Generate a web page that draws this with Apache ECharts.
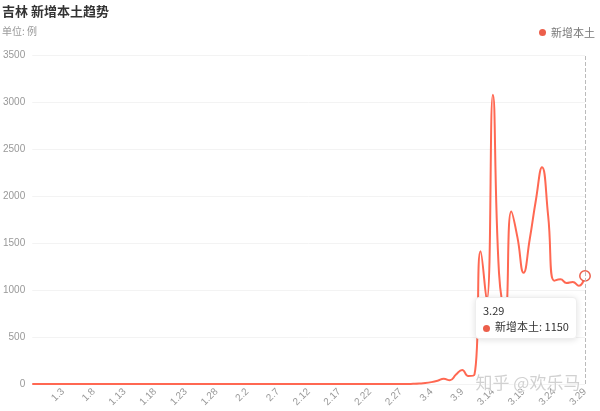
<!DOCTYPE html>
<html>
<head>
<meta charset="utf-8">
<script src="https://cdn.jsdelivr.net/npm/echarts@6/dist/echarts.min.js"></script>
<style>
  html, body { margin: 0; padding: 0; background: #fff; }
  #chart { width: 600px; height: 411px; }
</style>
</head>
<body>
<div id="chart"></div>
<script>
const titleText = '吉林 新增本土趋势';
const unitText = '单位: 例';
const seriesName = '新增本土';

const dates = [
  '12.29','12.30','12.31',
  '1.1','1.2','1.3','1.4','1.5','1.6','1.7','1.8','1.9','1.10',
  '1.11','1.12','1.13','1.14','1.15','1.16','1.17','1.18','1.19','1.20',
  '1.21','1.22','1.23','1.24','1.25','1.26','1.27','1.28','1.29','1.30','1.31',
  '2.1','2.2','2.3','2.4','2.5','2.6','2.7','2.8','2.9','2.10',
  '2.11','2.12','2.13','2.14','2.15','2.16','2.17','2.18','2.19','2.20',
  '2.21','2.22','2.23','2.24','2.25','2.26','2.27','2.28',
  '3.1','3.2','3.3','3.4','3.5','3.6','3.7','3.8','3.9','3.10',
  '3.11','3.12','3.13','3.14','3.15','3.16','3.17','3.18','3.19','3.20',
  '3.21','3.22','3.23','3.24','3.25','3.26','3.27','3.28','3.29'
];

// 12.29 - 12.31
const valuesDec = [0, 0, 0];
// 1.1 - 1.31
const valuesJan = [0,0,0,0,0,0,0,0,0,0, 0,0,0,0,0,0,0,0,0,0, 0,0,0,0,0,0,0,0,0,0, 0];
// 2.1 - 2.28
const valuesFeb = [0,0,0,0,0,0,0,0,0,0, 0,0,0,0,0,0,0,0,0,0, 0,0,0,0,0,0,0,0];
// 3.1 - 3.29
const valuesMar = [2, 5, 10, 20, 35, 55, 40, 100, 150, 85,
                   100, 1412, 895, 3076, 1180, 760, 1834, 1560, 1184, 1540,
                   1955, 2306, 1790, 1099, 1115, 1075, 1085, 1045, 1150];

const values = valuesDec.concat(valuesJan, valuesFeb, valuesMar);

const yTicks = { min: 0, max: 3500, interval: 500 };
const watermarkText = '知乎 @欢乐马';

const lineColor = '#ec5f4b';

const chart = echarts.init(document.getElementById('chart'), null, { renderer: 'canvas' });
chart.setOption({
  animation: false,
  backgroundColor: '#fff',
  title: {
    text: titleText,
    subtext: unitText,
    left: 2,
    top: 5,
    padding: 0,
    itemGap: 8,
    textStyle: { fontSize: 13, fontWeight: 'bold', color: '#333', fontFamily: 'Noto Sans CJK SC' },
    subtextStyle: { fontSize: 10, color: '#999', fontFamily: 'Noto Sans CJK SC' }
  },
  legend: {
    right: 0,
    top: 22,
    icon: 'circle',
    itemWidth: 7,
    itemHeight: 7,
    itemGap: 5,
    textStyle: { fontSize: 11, color: '#777', fontFamily: 'Noto Sans CJK SC' },
    data: [seriesName]
  },
  grid: { left: 30, right: 15, top: 55, bottom: 27, containLabel: false },
  tooltip: {
    trigger: 'axis',
    alwaysShowContent: true,
    transitionDuration: 0,
    position: [475, 297],
    backgroundColor: '#fff',
    borderColor: '#eee',
    borderWidth: 1,
    padding: [4, 7],
    extraCssText: 'box-shadow: 0 1px 6px rgba(0,0,0,0.12); border-radius:4px;',
    textStyle: { fontSize: 11, color: '#333', fontFamily: 'Noto Sans CJK SC' },
    axisPointer: {
      type: 'line',
      lineStyle: { color: '#bbb', type: 'dashed', width: 1 }
    },
    formatter: function (params) {
      const p = params[0];
      return '<div style="line-height:16px">' + p.axisValue + '<br/>' +
        '<span style="display:inline-block;width:7px;height:7px;border-radius:50%;background:' + lineColor + ';margin-right:5px;vertical-align:middle"></span>' +
        p.seriesName + ': ' + p.value + '</div>';
    }
  },
  xAxis: {
    type: 'category',
    data: dates,
    boundaryGap: false,
    axisLine: { show: false },
    axisTick: { show: false },
    axisLabel: {
      rotate: 45,
      fontSize: 10,
      color: '#999',
      margin: 6,
      interval: function (i) { return i % 5 === 0 && i > 0; }
    },
    splitLine: { show: false }
  },
  yAxis: {
    type: 'value',
    min: yTicks.min,
    max: yTicks.max,
    interval: yTicks.interval,
    axisLine: { show: false },
    axisTick: { show: false },
    axisLabel: {
      fontSize: 10,
      color: '#999',
      margin: 7,
      formatter: function (v) { return String(v); }
    },
    splitLine: { lineStyle: { color: '#f3f3f3', width: 1 } }
  },
  graphic: [{
    type: 'text',
    left: 475,
    top: 374,
    z: 100,
    style: {
      text: watermarkText,
      fontSize: 17,
      fill: 'rgba(190,190,190,0.7)',
      stroke: 'rgba(255,255,255,0.8)',
      lineWidth: 1,
      fontFamily: 'Noto Sans CJK SC'
    }
  }],
  series: [{
    name: seriesName,
    type: 'line',
    data: values,
    smooth: true,
    showSymbol: false,
    symbol: 'circle',
    symbolSize: 8,
    itemStyle: { color: lineColor, borderColor: lineColor },
    lineStyle: { color: lineColor, width: 2 },
    emphasis: {
      scale: 1.3,
      itemStyle: { color: '#fff', borderColor: lineColor, borderWidth: 1.5 }
    }
  }]
});

chart.dispatchAction({ type: 'showTip', seriesIndex: 0, dataIndex: values.length - 1 });
</script>
</body>
</html>
